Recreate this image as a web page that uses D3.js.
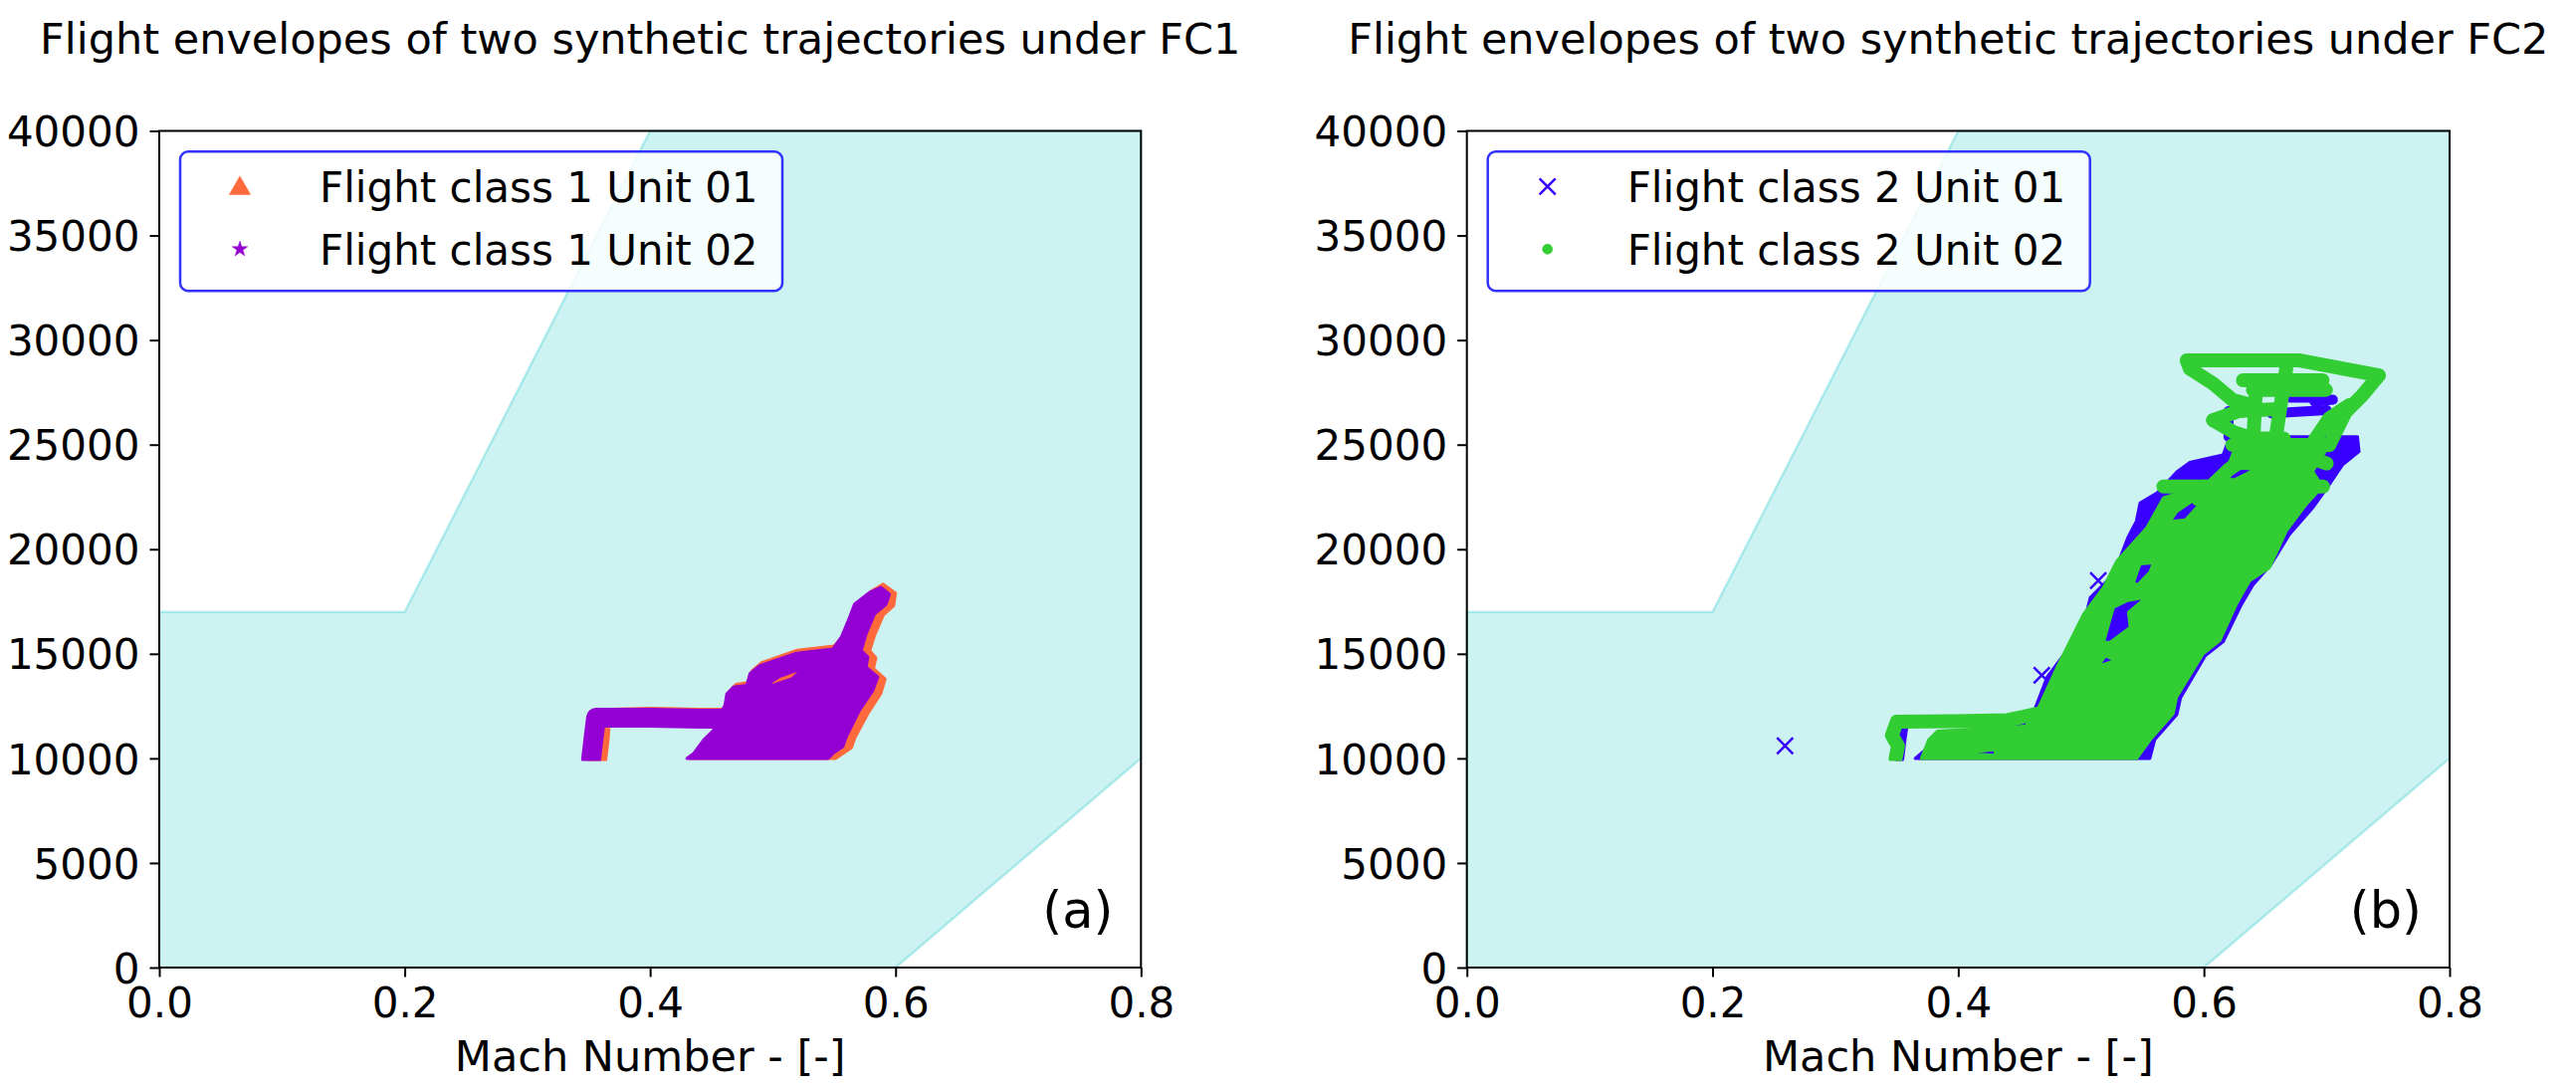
<!DOCTYPE html>
<html>
<head>
<meta charset="utf-8">
<script src="https://cdn.jsdelivr.net/npm/d3@7/dist/d3.min.js"></script>
<style>
  html, body { margin: 0; padding: 0; background: #ffffff; }
  svg { display: block; }
  text { font-family: "DejaVu Sans", sans-serif; fill: #000; }
</style>
</head>
<body>
<svg id="chart" width="2588" height="1092"></svg>
<script>
// ---------------- DATA ----------------
const machTicks = [0.0, 0.2, 0.4, 0.6, 0.8];
const altTicks = [0, 5000, 10000, 15000, 20000, 25000, 30000, 35000, 40000];
const machDomain = [0, 0.8];
const altDomain = [0, 40000];
const minDataAlt = 10000;

// flight envelope polygon [Mach, altitude ft]
const envelope = [[0, 0], [0.6, 0], [0.8, 10000], [0.8, 40000], [0.4, 40000], [0.2, 17000], [0, 17000]];

const titles = ["Flight envelopes of two synthetic trajectories under FC1",
                "Flight envelopes of two synthetic trajectories under FC2"];
const panelTags = ["(a)", "(b)"];
const xLabel = "Mach Number - [-]";
const seriesNames = [["Flight class 1 Unit 01", "Flight class 1 Unit 02"],
                     ["Flight class 2 Unit 01", "Flight class 2 Unit 02"]];

// FC1 Unit 01 (triangles): dense-cover outline, gaps, trajectory legs
const fc1u01Core = [[0.433,10000],[0.438,10300],[0.446,10900],[0.455,11300],[0.458,11900],[0.463,12600],[0.4645,13200],[0.470,13540],[0.480,13620],[0.483,14170],[0.491,14580],[0.520,15170],[0.550,15370],[0.558,15900],[0.565,16850],[0.569,17450],[0.581,18020],[0.590,18330],[0.600,17900],[0.5985,17300],[0.590,16850],[0.583,15900],[0.579,15150],[0.584,14800],[0.582,14300],[0.5915,13800],[0.588,13100],[0.578,12200],[0.567,11000],[0.564,10500],[0.555,10150],[0.551,10000]];
const fc1u01Gaps = [
  [[0.500,13500],[0.509,13800],[0.527,14250],[0.519,13900],[0.504,13560]],
  [[0.486,11500],[0.494,12200],[0.499,12500],[0.493,11950]]
];
const fc1u01Paths = [
  [[0.357,10000],[0.359,11000],[0.360,11930],[0.40,11990],[0.44,11940],[0.463,11940]]
];
// FC1 Unit 02 (stars)
const fc1u02Core = [[0.430,10000],[0.4355,10240],[0.4436,10880],[0.4517,11350],[0.455,11900],[0.461,12540],[0.4625,13090],[0.4679,13410],[0.4787,13490],[0.4814,14050],[0.4895,14440],[0.5193,15030],[0.549,15230],[0.5558,15790],[0.5625,16740],[0.5666,17370],[0.5788,17930],[0.5882,18170],[0.595,17850],[0.5923,17370],[0.5828,16900],[0.576,15950],[0.572,15160],[0.5774,14840],[0.576,14360],[0.5855,13890],[0.5815,13250],[0.5706,12300],[0.5598,11030],[0.5571,10560],[0.549,10240],[0.545,10000]];
const fc1u02Gaps = [
  [[0.496,13550],[0.505,13900],[0.525,14320],[0.516,13820],[0.500,13500]],
  [[0.482,11400],[0.491,12150],[0.497,12560],[0.490,11900]],
  [[0.565,13400],[0.577,13850],[0.567,13600]]
];
const fc1u02Paths = [
  [[0.352,10000],[0.354,11000],[0.356,11950],[0.40,11950],[0.44,11900],[0.462,11900]]
];

// FC2 Unit 01 (x markers)
const fc2u01Core = [[0.365,10000],[0.375,10500],[0.40,11000],[0.43,11400],[0.455,11600],[0.462,12300],[0.4724,13890],[0.4886,15160],[0.5021,16420],[0.5075,17690],[0.5237,18640],[0.5318,19590],[0.538,20550],[0.545,21340],[0.548,22210],[0.562,22700],[0.578,23700],[0.5886,24150],[0.6156,24510],[0.621,25380],[0.725,25380],[0.7263,24670],[0.7128,24030],[0.702,23080],[0.6885,21970],[0.6696,20700],[0.655,19300],[0.640,18300],[0.630,17300],[0.616,15600],[0.601,14900],[0.581,12900],[0.578,12100],[0.560,10900],[0.556,10000]];
const fc2u01Gaps = [];
const fc2u01Paths = [
  [[0.352,10000],[0.354,11000],[0.356,11750],[0.43,11750],[0.466,11800]],
  [[0.620,25380],[0.620,26600]],
  [[0.670,27250],[0.697,27250]],
  [[0.655,26500],[0.700,26650]],
  [[0.690,27050],[0.705,27150]]
];
const fc2u01Points = [[0.259,10600],[0.514,18500],[0.468,13970]];

// FC2 Unit 02 (circles)
const fc2u02Core = [[0.370,10000],[0.376,10900],[0.383,11300],[0.455,11550],[0.4643,12300],[0.4805,14360],[0.5021,16900],[0.5183,18170],[0.5292,19440],[0.5535,21020],[0.567,22450],[0.590,22900],[0.6075,23240],[0.621,24190],[0.6264,24980],[0.702,24980],[0.6885,23720],[0.6966,23000],[0.6831,22130],[0.667,20860],[0.6534,19120],[0.6372,18490],[0.6264,17370],[0.6129,15630],[0.5994,15000],[0.5778,12940],[0.575,12140],[0.5562,10880],[0.5454,10000]];
const fc2u02Gaps = [
  [[0.5183,15550],[0.5264,17220],[0.5372,17530],[0.5535,17720],[0.5386,16980],[0.540,16270],[0.5237,15550]],
  [[0.5427,18400],[0.548,19300],[0.5589,19350],[0.556,18900],[0.546,18300]],
  [[0.5135,14400],[0.520,14900],[0.528,14680]],
  [[0.405,10250],[0.430,10420],[0.430,10150]],
  [[0.420,11380],[0.445,11560],[0.440,11400]],
  [[0.568,21300],[0.585,22350],[0.598,22250],[0.585,21400]],
  [[0.612,23350],[0.630,23880],[0.642,23830],[0.625,23330]]
];
const fc2u02Paths = [
  [[0.349,10000],[0.351,10600],[0.346,11100],[0.350,11750],[0.40,11780],[0.44,11830],[0.466,12150]],
  [[0.567,23000],[0.697,23000]],
  [[0.6232,24980],[0.702,24980]],
  [[0.702,24980],[0.7155,26570],[0.729,27360],[0.7425,28310],[0.678,29030],[0.586,29030],[0.5886,28630],[0.6075,27920],[0.6237,27120],[0.640,26890]],
  [[0.6318,28080],[0.6966,28080]],
  [[0.6399,27620],[0.6993,27620]],
  [[0.667,28630],[0.6588,25460]],
  [[0.642,27300],[0.640,25000]],
  [[0.6075,26170],[0.628,26600],[0.660,26700]],
  [[0.6075,26170],[0.624,25600],[0.640,25300],[0.665,25300]],
  [[0.7183,26890],[0.702,26250],[0.690,25200]],
  [[0.548,19800],[0.575,22000],[0.600,23000]],
  [[0.595,22400],[0.620,23800],[0.640,24600]],
  [[0.690,24300],[0.700,24100]]
];
const fc2u02Points = [];

// ---------------- STYLE / LAYOUT ----------------
const colors = { fc1u01: "#ff6a3d", fc1u02: "#9400d3", fc2u01: "#3700ff", fc2u02: "#32cd32" };
const panels = [
  { x0: 160, x1: 1146.3 },
  { x0: 1473.7, x1: 2461 }
];
const yTop = 131.5, yBot = 972;

const svg = d3.select("#chart");
const defs = svg.append("defs");

const panelSeries = [
  [
    { core: fc1u01Core, gaps: fc1u01Gaps, paths: fc1u01Paths, points: [], color: colors.fc1u01, symbol: d3.symbolTriangle, width: 20, legendSize: 200 },
    { core: fc1u02Core, gaps: fc1u02Gaps, paths: fc1u02Paths, points: [], color: colors.fc1u02, symbol: d3.symbolStar, width: 20, legendSize: 75 }
  ],
  [
    { core: fc2u01Core, gaps: fc2u01Gaps, paths: fc2u01Paths, points: fc2u01Points, color: colors.fc2u01, symbol: d3.symbolX, symSize: 170, width: 10, legendSize: 170, stroked: true },
    { core: fc2u02Core, gaps: fc2u02Gaps, paths: fc2u02Paths, points: fc2u02Points, color: colors.fc2u02, symbol: d3.symbolCircle, symSize: 150, width: 14, legendSize: 80 }
  ]
];

panels.forEach((p, i) => {
  const x = d3.scaleLinear().domain(machDomain).range([p.x0, p.x1]);
  const y = d3.scaleLinear().domain(altDomain).range([yBot, yTop]);
  const g = svg.append("g");

  const clipId = "clip" + i;
  defs.append("clipPath").attr("id", clipId)
    .append("rect").attr("x", p.x0).attr("y", yTop)
    .attr("width", p.x1 - p.x0).attr("height", y(minDataAlt) + 2.5 - yTop);

  const openLine = d3.line().x(d => x(d[0])).y(d => y(d[1]));
  const closedLine = d3.line().x(d => x(d[0])).y(d => y(d[1])).curve(d3.curveLinearClosed);

  // envelope
  g.append("path").datum(envelope)
    .attr("d", closedLine)
    .attr("fill", "#00bfbf").attr("fill-opacity", 0.2)
    .attr("stroke", "#00bfbf").attr("stroke-opacity", 0.25).attr("stroke-width", 2.5);

  // data
  const dg = g.append("g").attr("clip-path", `url(#${clipId})`);
  panelSeries[i].forEach(s => {
    const sg = dg.append("g");
    const d = [closedLine(s.core)].concat(s.gaps.map(h => closedLine(h))).join(" ");
    sg.append("path").attr("d", d).attr("fill-rule", "evenodd")
      .attr("fill", s.color).attr("stroke", s.color).attr("stroke-width", 3)
      .attr("stroke-linejoin", "round");
    s.paths.forEach(pt => {
      sg.append("path").datum(pt).attr("d", openLine)
        .attr("fill", "none").attr("stroke", s.color).attr("stroke-width", s.width)
        .attr("stroke-linejoin", "round").attr("stroke-linecap", "round");
    });
    const sym = d3.symbol().type(s.symbol).size(s.symSize || 100);
    sg.selectAll("path.pt").data(s.points).enter().append("path").attr("class", "pt")
      .attr("transform", d => `translate(${x(d[0])},${y(d[1])})`)
      .attr("d", sym)
      .attr("fill", s.stroked ? "none" : s.color)
      .attr("stroke", s.color).attr("stroke-width", s.stroked ? 2.5 : 1);
  });

  // spines
  g.append("rect").attr("x", p.x0).attr("y", yTop).attr("width", p.x1 - p.x0).attr("height", yBot - yTop)
    .attr("fill", "none").attr("stroke", "#000").attr("stroke-width", 2);

  // axes
  const xAxis = d3.axisBottom(x).tickValues(machTicks).tickFormat(d3.format(".1f")).tickSize(9.5).tickPadding(10);
  const yAxis = d3.axisLeft(y).tickValues(altTicks).tickFormat(d3.format("d")).tickSize(9.5).tickPadding(10);
  const xg = g.append("g").attr("transform", `translate(0,${yBot})`).call(xAxis);
  const yg = g.append("g").attr("transform", `translate(${p.x0},0)`).call(yAxis);
  [xg, yg].forEach(a => {
    a.select(".domain").remove();
    a.selectAll(".tick line").attr("stroke", "#000").attr("stroke-width", 2);
    a.selectAll(".tick text").attr("font-size", 42).attr("font-family", "DejaVu Sans").attr("fill", "#000");
  });
  xg.selectAll(".tick text").attr("dy", null).attr("y", 49.7);
  yg.selectAll(".tick text").attr("dy", "0.36em");

  // labels
  g.append("text").attr("x", (p.x0 + p.x1) / 2).attr("y", 1075.5)
    .attr("text-anchor", "middle").attr("font-size", 43).text(xLabel);
  g.append("text").attr("x", (p.x0 + p.x1) / 2 - 10).attr("y", 54)
    .attr("text-anchor", "middle").attr("font-size", 43).text(titles[i]);
  g.append("text").attr("x", p.x1 - 28).attr("y", 932)
    .attr("text-anchor", "end").attr("font-size", 51).text(panelTags[i]);

  // legend
  const lg = g.append("g");
  lg.append("rect").attr("x", p.x0 + 21).attr("y", 152.3).attr("width", 605).attr("height", 140)
    .attr("rx", 8).attr("ry", 8)
    .attr("fill", "#ffffff").attr("fill-opacity", 0.8)
    .attr("stroke", "#3333ff").attr("stroke-width", 2.5);
  const rowsY = [187.3, 250.3];
  panelSeries[i].forEach((s, k) => {
    lg.append("path")
      .attr("transform", `translate(${p.x0 + 81},${rowsY[k] + (s.symbol === d3.symbolTriangle ? 2 : 0)})`)
      .attr("d", d3.symbol().type(s.symbol).size(s.legendSize))
      .attr("fill", s.stroked ? "none" : s.color)
      .attr("stroke", s.color).attr("stroke-width", s.stroked ? 2.5 : 0.5);
    lg.append("text").attr("x", p.x0 + 161).attr("y", rowsY[k] + 15.4)
      .attr("font-size", 42).text(seriesNames[i][k]);
  });
});
</script>
</body>
</html>
